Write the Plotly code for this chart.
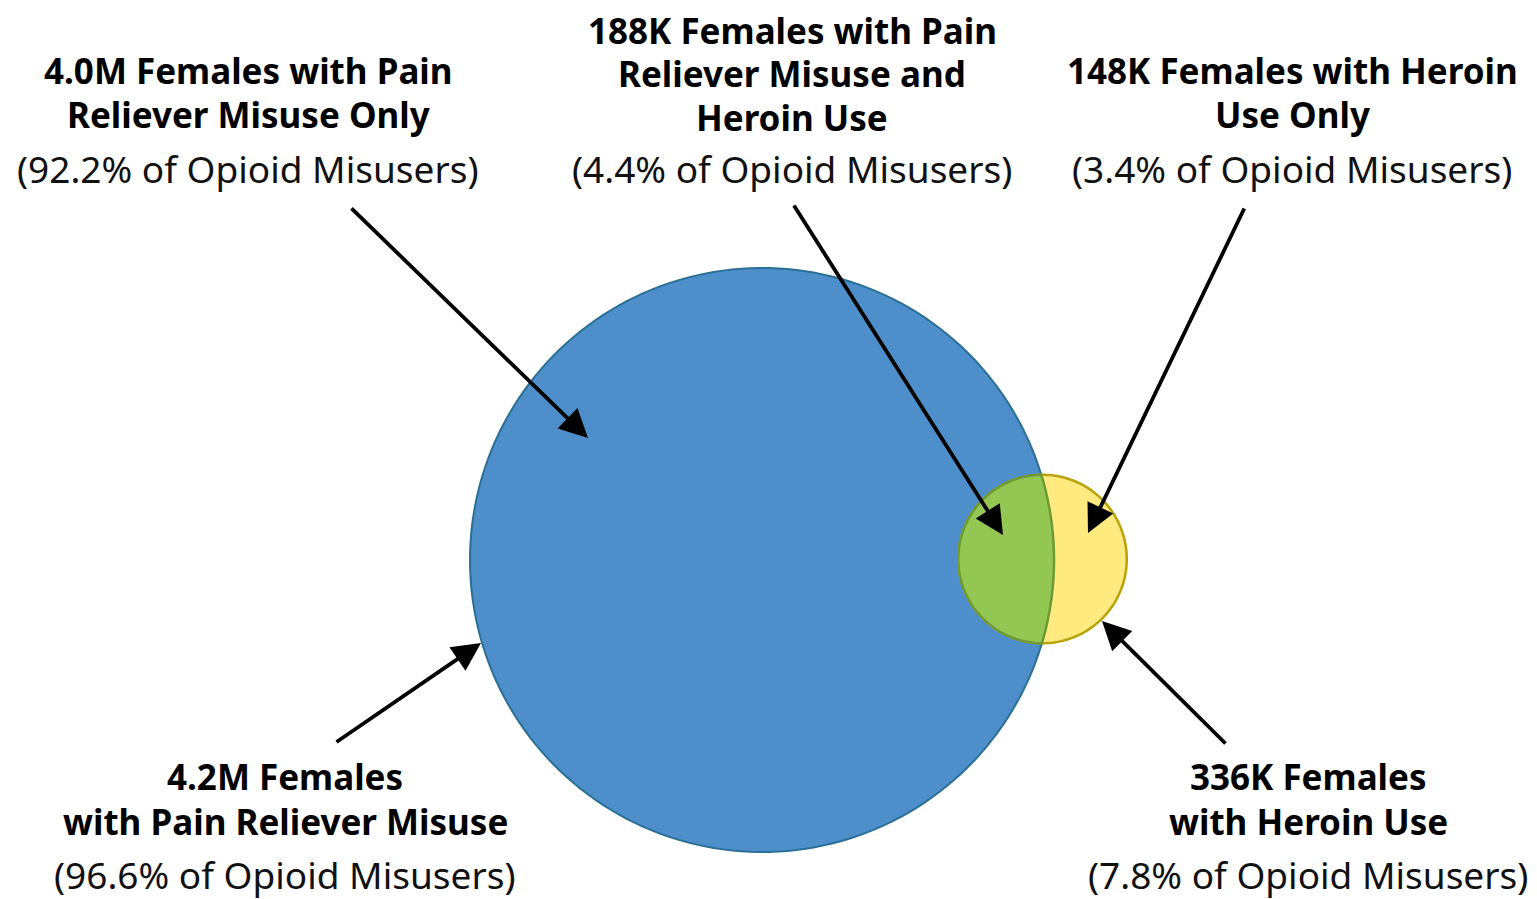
import numpy as np
import plotly.graph_objects as go

# Venn data (females, opioid misuse)
groups = ["Pain Reliever Misuse", "Heroin Use"]
totals = [4.2e6, 336e3]
total_labels = [["4.2M Females", "with Pain Reliever Misuse"],
                ["336K Females", "with Heroin Use"]]
total_pcts = ["(96.6% of Opioid Misusers)", "(7.8% of Opioid Misusers)"]

parts = ["Pain Reliever Misuse Only", "Both", "Heroin Use Only"]
part_labels = [["4.0M Females with Pain", "Reliever Misuse Only"],
               ["188K Females with Pain", "Reliever Misuse and", "Heroin Use"],
               ["148K Females with Heroin", "Use Only"]]
part_pcts = ["(92.2% of Opioid Misusers)", "(4.4% of Opioid Misusers)", "(3.4% of Opioid Misusers)"]

W, H = 1537, 899
OFF = 8  # page body margin
FONT = "Noto Sans"

# circle geometry: area proportional to count
k = 292 / np.sqrt(totals[0])
r1 = k * np.sqrt(totals[0])
r2 = k * np.sqrt(totals[1]) * 1.02
c1 = (762, 560)
c2 = (1042.5, 559)


def circle_path(c, r, n=200):
    t = np.linspace(0, 2 * np.pi, n)
    x = c[0] + r * np.cos(t)
    y = c[1] + r * np.sin(t)
    return "M " + " L ".join(f"{a:.2f},{b:.2f}" for a, b in zip(x, y)) + " Z"


def lens_path(c1, r1, c2, r2, n=80):
    d = np.hypot(c2[0] - c1[0], c2[1] - c1[1])
    a = (r1**2 - r2**2 + d**2) / (2 * d)
    h = np.sqrt(r1**2 - a**2)
    ux, uy = (c2[0] - c1[0]) / d, (c2[1] - c1[1]) / d
    px, py = c1[0] + a * ux, c1[1] + a * uy
    p_top = (px + h * uy, py - h * ux)
    p_bot = (px - h * uy, py + h * ux)
    # arc of big circle between the intersection points
    t1a = np.arctan2(p_top[1] - c1[1], p_top[0] - c1[0])
    t1b = np.arctan2(p_bot[1] - c1[1], p_bot[0] - c1[0])
    ta = np.linspace(t1a, t1b, n)
    xs = list(c1[0] + r1 * np.cos(ta))
    ys = list(c1[1] + r1 * np.sin(ta))
    # arc of small circle back to the top
    t2a = np.arctan2(p_bot[1] - c2[1], p_bot[0] - c2[0])
    t2b = np.arctan2(p_top[1] - c2[1], p_top[0] - c2[0])
    if t2b < t2a:
        t2b += 2 * np.pi
    tb = np.linspace(t2a, t2b, n)
    xs += list(c2[0] + r2 * np.cos(tb))
    ys += list(c2[1] + r2 * np.sin(tb))
    return "M " + " L ".join(f"{a:.2f},{b:.2f}" for a, b in zip(xs, ys)) + " Z"


fig = go.Figure()
fig.add_trace(go.Scatter(x=[OFF, W], y=[OFF, H], mode="markers", marker=dict(opacity=0),
                         hoverinfo="skip", showlegend=False))

fig.add_shape(type="path", path=circle_path(c1, r1), fillcolor="#4e8fcb",
              line=dict(color="#2a6f96", width=2), layer="above")
fig.add_shape(type="path", path=circle_path(c2, r2), fillcolor="#ffea7f",
              line=dict(color="#b8a207", width=2.5), layer="above")
fig.add_shape(type="path", path=lens_path(c1, r1, c2, r2), fillcolor="#93c652",
              line=dict(color="#6d9a34", width=2.5), layer="above")

bold = dict(family=FONT, size=35, color="black", weight="bold")
reg = dict(family=FONT, size=37, color="#111111")


def add_block(lines, pct, x, ys, yp):
    for ln, y in zip(lines, ys):
        fig.add_annotation(x=x, y=y, text=ln, showarrow=False, font=bold,
                           xref="x", yref="y", yanchor="middle", borderpad=0)
    fig.add_annotation(x=x, y=yp, text=pct, showarrow=False, font=reg,
                       xref="x", yref="y", yanchor="middle", borderpad=0)


add_block(part_labels[0], part_pcts[0], 248, [70, 114], 168)
add_block(part_labels[1], part_pcts[1], 792, [30, 73.5, 117], 168)
add_block(part_labels[2], part_pcts[2], 1292, [70, 114], 168)
add_block(total_labels[0], total_pcts[0], 285, [776, 821], 874)
add_block(total_labels[1], total_pcts[1], 1308, [776, 821], 874)

# arrows: tail -> head
arrows = [((350, 207), (588, 438)),
          ((793, 204), (1003, 535)),
          ((1245, 207), (1088, 533)),
          ((335, 743), (481, 643)),
          ((1227, 745), (1102, 621))]
for (tx, ty), (hx, hy) in arrows:
    fig.add_annotation(x=hx, y=hy, ax=tx, ay=ty, xref="x", yref="y", axref="x", ayref="y",
                       text="", showarrow=True, arrowhead=2, arrowsize=1.5, arrowwidth=3.8,
                       arrowcolor="black")

fig.update_layout(
    width=W - OFF, height=H - OFF, margin=dict(l=0, r=0, t=0, b=0),
    paper_bgcolor="white", plot_bgcolor="white", showlegend=False,
    xaxis=dict(range=[OFF, W], visible=False, fixedrange=True),
    yaxis=dict(range=[H, OFF], visible=False, fixedrange=True),
)
fig.write_html("out.html")
